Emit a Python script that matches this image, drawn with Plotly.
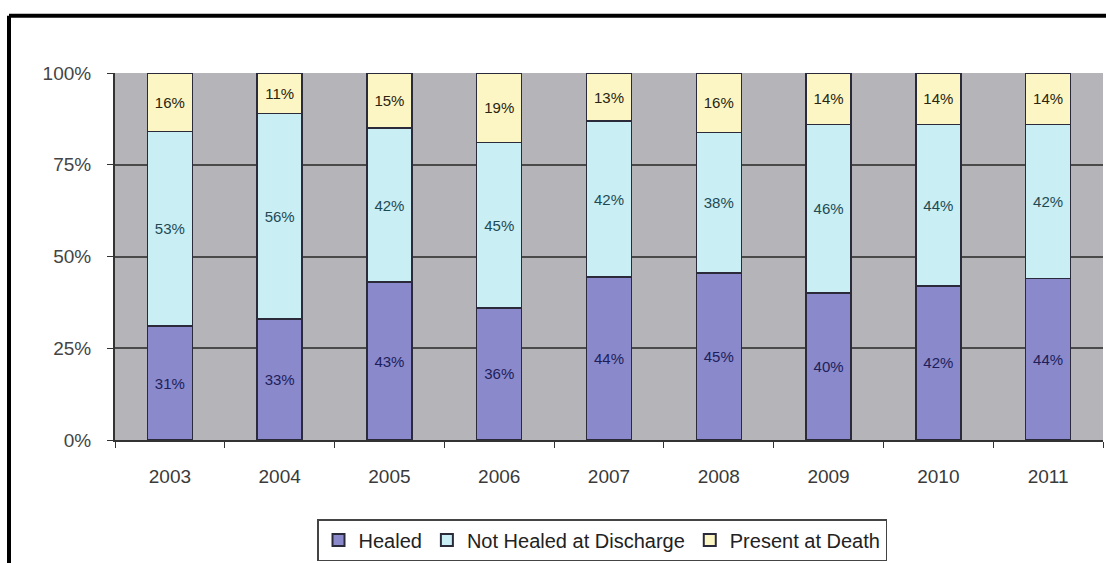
import plotly.graph_objects as go

years = ["2003", "2004", "2005", "2006", "2007", "2008", "2009", "2010", "2011"]
healed = [31, 33, 43, 36, 44, 45, 40, 42, 44]
not_healed = [53, 56, 42, 45, 42, 38, 46, 44, 42]
present_death = [16, 11, 15, 19, 13, 16, 14, 14, 14]
y_ticks = [0, 25, 50, 75, 100]
y_tick_labels = ["0%", "25%", "50%", "75%", "100%"]

W, H = 1106, 563
L, R, T, B = 115, 3, 73, 122
pw, ph = W - L - R, H - T - B

series = [
    ("Healed", healed, "#8989cc", "#1e1e5a"),
    ("Not Healed at Discharge", not_healed, "#c9eef3", "#1e4a55"),
    ("Present at Death", present_death, "#fbf6c4", "#2a2410"),
]

fig = go.Figure()
for name, vals, col, tcol in series:
    fig.add_trace(go.Bar(
        x=years, y=vals, name=name,
        marker=dict(color=col, line=dict(color="#2a2a3a", width=1.5)),
        text=[f"{v}%" for v in vals], textposition="inside",
        insidetextanchor="middle", textangle=0,
        textfont=dict(family="Arial", size=15, color=tcol),
        width=0.41,
    ))

# black frame lines (top and left of original image frame)
fx = (9 - L) / pw
fy = (H - B - 15.5) / ph
fig.add_shape(type="line", xref="paper", yref="paper", x0=fx, x1=1.2, y0=fy, y1=fy,
              line=dict(color="black", width=4))
fig.add_shape(type="line", xref="paper", yref="paper", x0=fx, x1=fx, y0=fy, y1=-0.5,
              line=dict(color="black", width=4))

fig.update_layout(
    width=W, height=H,
    margin=dict(l=L, r=R, t=T, b=B),
    barmode="stack", barnorm="percent",
    plot_bgcolor="#b5b5b9", paper_bgcolor="white",
    font=dict(family="Arial", color="#333333"),
    showlegend=True,
    legend=dict(orientation="h", x=(602 - L) / pw, xanchor="center", y=(H - B - 519) / ph, yanchor="top",
                bordercolor="#444444", borderwidth=1.5, bgcolor="white",
                font=dict(family="Arial", size=20, color="#222222"),
                itemwidth=30, tracegroupgap=0, traceorder="normal",
                itemsizing="constant"),
    xaxis=dict(type="category", showgrid=False, ticks="outside", tickson="boundaries",
               ticklen=6, tickcolor="#333333", showline=True, linecolor="#333333", linewidth=2,
               tickfont=dict(size=19, color="#3a3a3a"), range=[-0.5, 8.5],
               ticklabelstandoff=18),
    yaxis=dict(range=[0, 100], tickvals=y_ticks, ticktext=y_tick_labels,
               showgrid=True, gridcolor="#4a4a4a", gridwidth=2,
               ticks="outside", ticklen=6, tickcolor="#333333",
               showline=True, linecolor="#333333", linewidth=2,
               tickfont=dict(size=19, color="#444444"), zeroline=False,
               ticklabelstandoff=12),
    uniformtext=dict(mode="show", minsize=12),
)

fig.write_html("out.html")
